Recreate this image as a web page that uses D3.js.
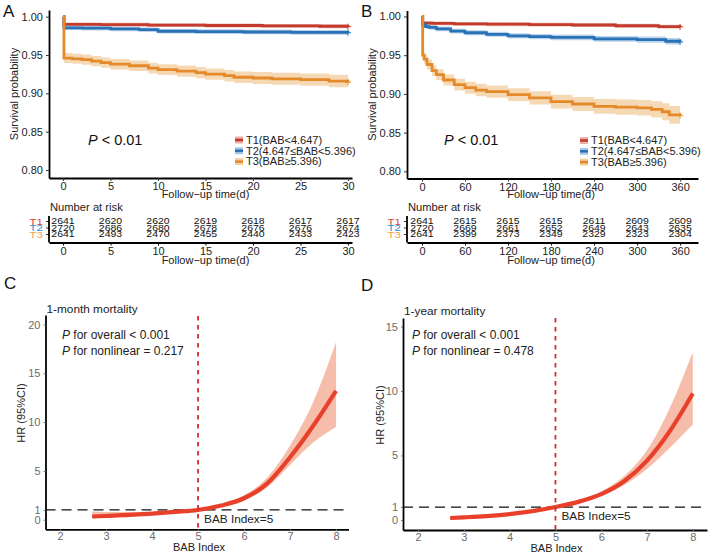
<!DOCTYPE html>
<html>
<head>
<meta charset="utf-8">
<script src="https://cdn.jsdelivr.net/npm/d3@7"></script>
<style>
body{margin:0;background:#fff;}
svg{font-family:"Liberation Sans",Arial,sans-serif;}
</style>
</head>
<body>
<div id="fig"></div>
<script>
// ---- panel A : 30 day KM ----
var aT1time=[0,0.1,4,9,15,21,27,30]
var aT1surv=[1,0.990,0.9895,0.989,0.9885,0.988,0.9875,0.987]
var aT1lo=[1,0.9875,0.987,0.9865,0.986,0.9855,0.985,0.9845]
var aT1hi=[1,0.9925,0.992,0.9915,0.991,0.9905,0.99,0.9895]

var aT2time=[0,0.1,2,5,8,10,14,19,24,30]
var aT2surv=[1,0.9855,0.985,0.984,0.983,0.981,0.9805,0.980,0.9795,0.979]
var aT2lo=[1,0.9825,0.982,0.981,0.98,0.978,0.9775,0.977,0.9765,0.976]
var aT2hi=[1,0.9885,0.988,0.987,0.986,0.984,0.9835,0.983,0.9825,0.982]

var aT3time=[0,0.1,1,2,3,4,5,7,9,10,12,14,15,17,18,20,22,25,28,30]
var aT3surv=[1,0.946,0.945,0.944,0.942,0.940,0.938,0.936,0.933,0.931,0.929,0.927,0.925,0.923,0.921,0.920,0.919,0.918,0.916,0.9145]
var aT3lo=[1,0.9395,0.9385,0.9374,0.9353,0.9333,0.9312,0.9291,0.926,0.9239,0.9218,0.9197,0.9176,0.9155,0.9134,0.9123,0.9112,0.91,0.9079,0.9055]
var aT3hi=[1,0.9525,0.9515,0.9506,0.9487,0.9467,0.9448,0.9429,0.94,0.9381,0.9362,0.9343,0.9324,0.9305,0.9286,0.9277,0.9268,0.926,0.9241,0.9235]

var aRiskTimes=[0,5,10,15,20,25,30]
var aRiskT1=[2641,2620,2620,2619,2618,2617,2617]
var aRiskT2=[2720,2686,2680,2678,2676,2676,2674]
var aRiskT3=[2641,2493,2470,2455,2440,2433,2423]

// ---- panel B : 360 day KM ----
var bT1time=[0,1,15,45,90,150,210,270,330,360]
var bT1surv=[1,0.9915,0.991,0.9905,0.990,0.9895,0.989,0.988,0.9868,0.9865]
var bT1lo=[1,0.989,0.9885,0.988,0.9875,0.987,0.9865,0.9855,0.9843,0.984]
var bT1hi=[1,0.994,0.9935,0.993,0.9925,0.992,0.9915,0.9905,0.9893,0.989]

var bT2time=[0,1,5,10,20,40,60,90,120,150,180,240,300,340,360]
var bT2surv=[1,0.9895,0.987,0.986,0.984,0.981,0.979,0.977,0.975,0.974,0.973,0.971,0.970,0.968,0.967]
var bT2lo=[1,0.9865,0.984,0.983,0.981,0.978,0.9758,0.9738,0.9716,0.9705,0.9694,0.9672,0.966,0.9638,0.9628]
var bT2hi=[1,0.9925,0.99,0.989,0.987,0.984,0.9822,0.9802,0.9784,0.9775,0.9766,0.9748,0.974,0.9722,0.9712]

var bT3time=[0,1,3,7,14,20,30,45,60,75,90,120,150,180,210,240,270,300,320,335,345,360]
var bT3surv=[1,0.950,0.945,0.938,0.930,0.925,0.918,0.912,0.908,0.905,0.903,0.899,0.895,0.890,0.887,0.884,0.883,0.882,0.880,0.877,0.873,0.872]
var bT3lo=[1,0.944,0.939,0.9315,0.923,0.918,0.9108,0.9045,0.9002,0.897,0.895,0.8908,0.8865,0.8812,0.878,0.8745,0.8732,0.872,0.8695,0.866,0.8615,0.86]
var bT3hi=[1,0.956,0.951,0.9445,0.937,0.932,0.9252,0.9195,0.9158,0.913,0.911,0.9072,0.9035,0.8988,0.896,0.8935,0.8928,0.892,0.8905,0.888,0.8845,0.884]

var bRiskTimes=[0,60,120,180,240,300,360]
var bRiskT1=[2641,2615,2615,2615,2611,2609,2609]
var bRiskT2=[2720,2669,2661,2652,2649,2643,2635]
var bRiskT3=[2641,2399,2373,2349,2329,2323,2304]

var groupNames=["T1(BAB<4.647)","T2(4.647\u2264BAB<5.396)","T3(BAB\u22655.396)"]
var riskLabels=["T1","T2","T3"]

// ---- panels C / D : restricted cubic spline ----
var babX=[2.7,3,3.5,4,4.5,5,5.5,6,6.5,7,7.5,8]
var cHR=[0.33,0.38,0.5,0.63,0.8,1.0,1.45,2.2,3.7,6.4,9.6,13.2]
var cLo=[0.18,0.22,0.33,0.48,0.72,1.0,1.38,2.0,3.3,5.6,7.9,9.5]
var cHi=[0.85,0.8,0.78,0.8,0.88,1.0,1.55,2.5,4.3,7.6,12.0,18.2]

var dHR=[0.15,0.2,0.3,0.45,0.68,1.0,1.4,2.0,3.0,4.6,6.9,9.8]
var dLo=[0.08,0.12,0.22,0.38,0.62,1.0,1.35,1.85,2.7,3.95,5.6,7.4]
var dHi=[0.25,0.3,0.4,0.53,0.74,1.0,1.47,2.2,3.4,5.4,8.7,13.0]

var kmColors=["#c43b2e","#2a72b6","#e58a2a"]
var bandColors=["#e8b0a8","#a9c7e6","#f3cfa2"]
var riskColors=["#e0473b","#3a8cd4","#f0a24a"]

var svg=d3.select("#fig").append("svg")
	.attr("width",708).attr("height",555)

svg.append("rect").attr("width",708).attr("height",555).attr("fill","#fff")

function zipKM(t,s,lo,hi){
	var out=[]
	for(var i=0;i<t.length;i++){ out.push({t:t[i],s:s[i],lo:lo[i],hi:hi[i]}) }
	return out
}

function kmPanel(o){
	var g=svg.append("g")
	var x=d3.scaleLinear().domain(o.xdom).range(o.xrange)
	var y=d3.scaleLinear().domain(o.ydom).range(o.yrange)

	// bands
	o.groups.forEach(function(d,i){
		g.append("path").datum(d)
			.attr("fill",bandColors[i]).attr("opacity",0.8)
			.attr("d",d3.area().curve(d3.curveStepAfter)
				.x(p=>x(p.t)).y0(p=>y(p.lo)).y1(p=>y(p.hi)))
	})
	o.groups.forEach(function(d,i){
		g.append("path").datum(d)
			.attr("fill","none").attr("stroke",kmColors[i]).attr("stroke-width",2.8)
			.attr("d",d3.line().curve(d3.curveStepAfter).x(p=>x(p.t)).y(p=>y(p.s)))
		var last=d[d.length-1]
		g.append("path")
			.attr("d","M"+(x(last.t)-3)+","+y(last.s)+"h6M"+x(last.t)+","+(y(last.s)-3)+"v6")
			.attr("stroke",kmColors[i]).attr("stroke-width",1)
	})

	// axes
	var ya=g.append("g").attr("transform","translate("+o.xrange[0]+",0)")
		.call(d3.axisLeft(y).tickValues([0.8,0.85,0.9,0.95,1.0]).tickFormat(d3.format(".2f")).tickSize(3).tickSizeOuter(0))
	var xa=g.append("g").attr("transform","translate(0,"+o.yrange[0]+")")
		.call(d3.axisBottom(x).tickValues(o.ticks).tickSize(3).tickSizeOuter(0))
	;[ya,xa].forEach(function(a){
		a.select(".domain").attr("stroke","#000").attr("stroke-width",1.8)
		a.selectAll(".tick line").attr("stroke","#333")
		a.selectAll(".tick text").attr("font-size",11).attr("fill","#222")
			.attr("font-family","Liberation Sans, Arial, sans-serif")
	})
	xa.selectAll(".tick text").attr("dy","0.55em")

	g.append("text").attr("transform","translate("+(o.xrange[0]-31)+","+d3.mean(o.yrange)+") rotate(-90)")
		.attr("text-anchor","middle").attr("font-size",11).attr("fill","#222").text("Survival probability")
	g.append("text").attr("x",x(o.ticks[3])).attr("y",o.yrange[0]+19.5)
		.attr("text-anchor","middle").attr("font-size",11).attr("fill","#222").text("Follow\u2212up time(d)")

	var pt=g.append("text").attr("x",o.pX).attr("y",145).attr("font-size",14.5).attr("fill","#111")
	pt.append("tspan").attr("font-style","italic").text("P")
	pt.append("tspan").text(" < 0.01")

	// legend
	groupNames.forEach(function(n,i){
		var ly=o.legY+i*10.8
		g.append("rect").attr("x",o.legX).attr("y",ly-3.5).attr("width",8).attr("height",7).attr("fill",bandColors[i])
		g.append("rect").attr("x",o.legX).attr("y",ly-1.3).attr("width",8).attr("height",2.6).attr("fill",kmColors[i])
		g.append("text").attr("x",o.legX+11).attr("y",ly).attr("dy","0.35em")
			.attr("font-size",11).attr("fill","#222").text(n)
	})

	g.append("text").attr("x",o.labelX).attr("y",17).attr("font-size",17).attr("fill","#111").text(o.label)

	// risk table
	var rt=svg.append("g")
	var axisY=242.5
	rt.append("text").attr("x",o.xrange[0]+1).attr("y",207).attr("dy","0.35em")
		.attr("font-size",11.2).attr("fill","#222").text("Number at risk")
	var rows=[o.risk1,o.risk2,o.risk3]
	var rowY=[221.5,228,234.5]
	rows.forEach(function(r,i){
		rt.append("text").attr("x",o.xrange[0]-6).attr("y",rowY[i]).attr("dy","0.35em")
			.attr("text-anchor","end").attr("font-size",11.5).attr("fill",riskColors[i])
			.attr("transform","translate(0,"+rowY[i]*0.2+") scale(1,0.8)")
			.text(riskLabels[i])
		rt.selectAll(null).data(r).enter().append("text")
			.attr("x",(d,j)=>x(o.riskTimes[j])).attr("y",rowY[i]).attr("dy","0.35em")
			.attr("text-anchor","middle").attr("font-size",10.5).attr("fill","#111")
			.attr("transform","translate(0,"+rowY[i]*0.2+") scale(1,0.8)")
			.text(d=>d)
		rt.append("line").attr("x1",o.xrange[0]-3).attr("x2",o.xrange[0]).attr("y1",rowY[i]).attr("y2",rowY[i])
			.attr("stroke","#000").attr("stroke-width",0.8)
	})
	rt.append("line").attr("x1",o.xrange[0]).attr("x2",o.xrange[0]).attr("y1",216).attr("y2",axisY)
		.attr("stroke","#000").attr("stroke-width",1.8)
	var rxa=rt.append("g").attr("transform","translate(0,"+axisY+")")
		.call(d3.axisBottom(x).tickValues(o.riskTimes).tickSize(3).tickSizeOuter(0))
	rxa.select(".domain").attr("stroke","#000").attr("stroke-width",1.8)
	rxa.selectAll(".tick text").attr("font-size",11).attr("fill","#222").attr("dy","0.55em")
		.attr("font-family","Liberation Sans, Arial, sans-serif")
	rt.append("text").attr("x",x(o.ticks[3])).attr("y",264)
		.attr("text-anchor","middle").attr("font-size",11).attr("fill","#222").text("Follow\u2212up time(d)")
}

kmPanel({
	label:"A", labelX:3,
	xdom:[-1.474,30.42], xrange:[49,352], ydom:[0.7896,1.0087], yrange:[178,10],
	ticks:[0,5,10,15,20,25,30],
	groups:[zipKM(aT1time,aT1surv,aT1lo,aT1hi),zipKM(aT2time,aT2surv,aT2lo,aT2hi),zipKM(aT3time,aT3surv,aT3lo,aT3hi)],
	pX:88, legX:235, legY:140,
	riskTimes:aRiskTimes, risk1:aRiskT1, risk2:aRiskT2, risk3:aRiskT3
})

kmPanel({
	label:"B", labelX:361,
	xdom:[-20.9,385], xrange:[407,698], ydom:[0.7908,1.0077], yrange:[178.5,10.5],
	ticks:[0,60,120,180,240,300,360],
	groups:[zipKM(bT1time,bT1surv,bT1lo,bT1hi),zipKM(bT2time,bT2surv,bT2lo,bT2hi),zipKM(bT3time,bT3surv,bT3lo,bT3hi)],
	pX:444, legX:580, legY:140.5,
	riskTimes:bRiskTimes, risk1:bRiskT1, risk2:bRiskT2, risk3:bRiskT3
})

function splinePanel(o){
	var g=svg.append("g")
	var x=d3.scaleLinear().domain(o.xdom).range(o.xrange)
	var y=d3.scaleLinear().domain(o.ydom).range(o.yrange)
	var pts=babX.map((b,i)=>({b:b,hr:o.hr[i],lo:o.lo[i],hi:o.hi[i]}))

	g.append("path").datum(pts).attr("fill","#f5b39b").attr("opacity",0.85)
		.attr("d",d3.area().curve(d3.curveMonotoneX).x(p=>x(p.b)).y0(p=>y(p.lo)).y1(p=>y(p.hi)))

	g.append("line").attr("x1",o.xrange[0]).attr("x2",o.xrange[1]).attr("y1",y(1)).attr("y2",y(1))
		.attr("stroke","#111").attr("stroke-width",1.3).attr("stroke-dasharray","10,6")

	g.append("path").datum(pts).attr("fill","none").attr("stroke","#e8402b").attr("stroke-width",4.2)
		.attr("d",d3.line().curve(d3.curveMonotoneX).x(p=>x(p.b)).y(p=>y(p.hr)))

	g.append("line").attr("x1",x(5)).attr("x2",x(5)).attr("y1",o.vTop).attr("y2",o.yrange[0])
		.attr("stroke","#d42a36").attr("stroke-width",1.8).attr("stroke-dasharray","4.5,4.5")

	var ya=g.append("g").attr("transform","translate("+o.xrange[0]+",0)")
		.call(d3.axisLeft(y).tickValues(o.yticks).tickFormat(d3.format("d")).tickSize(2).tickSizeOuter(0))
	var xa=g.append("g").attr("transform","translate(0,"+o.yrange[0]+")")
		.call(d3.axisBottom(x).tickValues([2,3,4,5,6,7,8]).tickFormat(d3.format("d")).tickSize(2).tickSizeOuter(0))
	;[ya,xa].forEach(function(a){
		a.select(".domain").attr("stroke","#000").attr("stroke-width",1.8)
		a.selectAll(".tick line").attr("stroke","#777")
		a.selectAll(".tick text").attr("font-size",11).attr("fill","#6b6b6b")
			.attr("font-family","Liberation Sans, Arial, sans-serif")
	})
	xa.selectAll(".tick text").attr("dy","0.5em")

	g.append("text").attr("transform","translate("+o.yLabX+","+o.yLabY+") rotate(-90)")
		.attr("text-anchor","middle").attr("font-size",11).attr("fill","#222").text("HR (95%CI)")
	g.append("text").attr("x",x(5)+1).attr("y",o.yrange[0]+22)
		.attr("text-anchor","middle").attr("font-size",11).attr("fill","#222").text("BAB Index")
	g.append("text").attr("x",x(5)+6).attr("y",y(1)+9).attr("dy","0.35em")
		.attr("font-size",11.8).attr("fill","#222").text("BAB Index=5")
	g.append("text").attr("x",o.xrange[0]+1).attr("y",o.titleY).attr("dy","0.35em")
		.attr("font-size",11.8).attr("fill","#222").text(o.title)

	var t1=g.append("text").attr("x",o.pX).attr("y",334.5).attr("dy","0.35em").attr("font-size",12).attr("fill","#222")
	t1.append("tspan").attr("font-style","italic").text("P")
	t1.append("tspan").text(" for overall < 0.001")
	var t2=g.append("text").attr("x",o.pX).attr("y",350.5).attr("dy","0.35em").attr("font-size",12).attr("fill","#222")
	t2.append("tspan").attr("font-style","italic").text("P")
	t2.append("tspan").text(" for nonlinear = "+o.pNon)

	g.append("text").attr("x",o.labelX).attr("y",o.labelY).attr("dy","0.35em").attr("font-size",17).attr("fill","#111").text(o.label)
}

splinePanel({
	label:"C", labelX:4, labelY:283, title:"1-month mortality", titleY:308.5, pNon:"0.217",
	hr:cHR, lo:cLo, hi:cHi,
	xdom:[1.685,8.27], xrange:[45.5,348.5], ydom:[-0.98,20.97], yrange:[529.3,315],
	yticks:[0,1,5,10,15,20], vTop:316, pX:62, yLabX:25, yLabY:413
})

splinePanel({
	label:"D", labelX:361, labelY:285, title:"1-year mortality", titleY:310.5, pNon:"0.478",
	hr:dHR, lo:dLo, hi:dHi,
	xdom:[1.67,8.31], xrange:[403,707], ydom:[-0.78,15.66], yrange:[530,318],
	yticks:[0,1,5,10,15], vTop:318, pX:412, yLabX:384, yLabY:415
})
</script>
</body>
</html>
